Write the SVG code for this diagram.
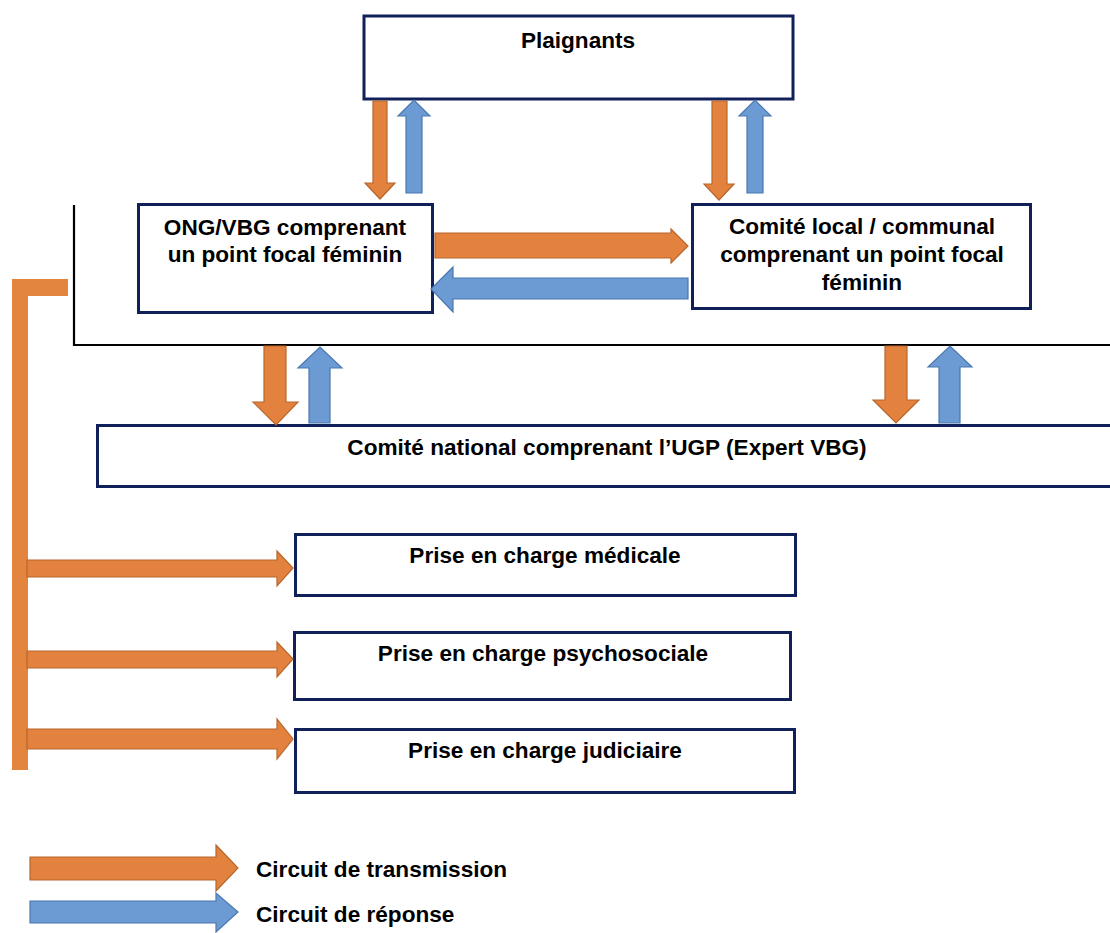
<svg xmlns="http://www.w3.org/2000/svg" width="1110" height="933" viewBox="0 0 1110 933">
<style>
.box{fill:#fff;stroke:#10215a;stroke-width:3}
.t{font-family:"Liberation Sans",Arial,sans-serif;font-weight:bold;font-size:22.6px;fill:#000;text-anchor:middle}
.tl{font-family:"Liberation Sans",Arial,sans-serif;font-weight:bold;font-size:22.6px;fill:#000}
.o{fill:#e3823f;stroke:#b8662c;stroke-width:1.2}
.b{fill:#6b9bd2;stroke:#4a78b0;stroke-width:1.2}
</style>
<rect width="1110" height="933" fill="#fff"/>
<g id="frame">
<polyline points="74,205 74,345 1110,345" fill="none" stroke="#000" stroke-width="2.2"/>
</g>
<g id="plaignants">
<rect class="box" x="364" y="16" width="429" height="83" stroke-width="4.5"/>
<text class="t" x="578" y="48">Plaignants</text>
</g>
<g id="ong">
<rect class="box" x="138.5" y="204.5" width="294" height="108"/>
<text class="t" x="285" y="235">ONG/VBG comprenant</text>
<text class="t" x="285" y="262">un point focal féminin</text>
</g>
<g id="comite-local">
<rect class="box" x="692.5" y="204.5" width="338" height="104"/>
<text class="t" x="862" y="234">Comité local / communal</text>
<text class="t" x="862" y="262">comprenant un point focal</text>
<text class="t" x="862" y="290">féminin</text>
</g>
<g id="comite-national">
<rect class="box" x="97.5" y="425.5" width="1030" height="61"/>
<text class="t" x="607" y="455">Comité national comprenant l’UGP (Expert VBG)</text>
</g>
<g id="medicale">
<rect class="box" x="295.5" y="534.5" width="500" height="61"/>
<text class="t" x="545" y="563">Prise en charge médicale</text>
</g>
<g id="psychosociale">
<rect class="box" x="294.5" y="632.5" width="496" height="67"/>
<text class="t" x="543" y="661">Prise en charge psychosociale</text>
</g>
<g id="judiciaire">
<rect class="box" x="295.5" y="729.5" width="499" height="63"/>
<text class="t" x="545" y="758">Prise en charge judiciaire</text>
</g>
<g id="connectors">
<polygon class="o" points="373,101 387,101 387,183 395,183 380,199 365,183 373,183"/>
<polygon class="b" points="406,193 422,193 422,116 430,116 414,100 398,116 406,116"/>
<polygon class="o" points="712,101 727,101 727,184 734,184 719,200 704,184 712,184"/>
<polygon class="b" points="747,193 763,193 763,116 771,116 755,100 739,116 747,116"/>
<polygon class="o" points="435,233 671,233 671,229 688,246 671,263 671,258 435,258"/>
<polygon class="b" points="431,289 453,267 453,278 688,278 688,299 453,299 453,312"/>
<polygon class="o" points="264,346 286,346 286,402 298,402 276,425 253,402 264,402"/>
<polygon class="b" points="309,423 330,423 330,368 342,368 320,347 298,368 309,368"/>
<polygon class="o" points="885,346 907,346 907,400 919,400 896,423 873,400 885,400"/>
<polygon class="b" points="939,423 960,423 960,367 972,367 950,346 928,367 939,367"/>
<path d="M12,279 H68 V296 H28 V770 H12 Z" fill="#e3853f"/>
<polygon class="o" points="27,560 277,560 277,551 293,568 277,586 277,577 27,577"/>
<polygon class="o" points="27,651 277,651 277,642 293,659 277,677 277,668 27,668"/>
<polygon class="o" points="27,729 277,729 277,719 293,739 277,759 277,749 27,749"/>
</g>
<g id="legend">
<polygon class="o" points="30,857 216,857 216,845 238,868 216,891 216,880 30,880"/>
<text class="tl" x="256" y="877">Circuit de transmission</text>
<polygon class="b" points="30,901 216,901 216,893 238,912 216,932 216,923 30,923"/>
<text class="tl" x="256" y="922">Circuit de réponse</text>
</g>
</svg>
